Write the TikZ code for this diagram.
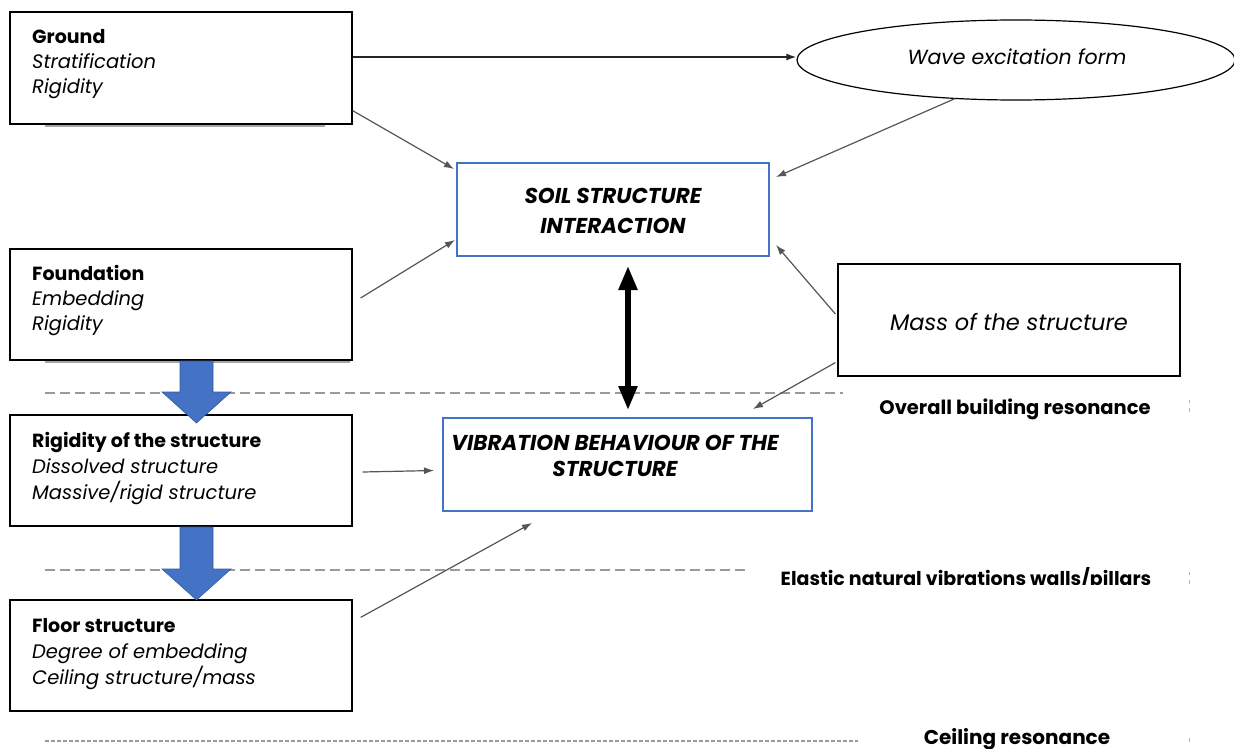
\documentclass[tikz,border=0pt]{standalone}
\usepackage{fontspec}
\setmainfont{Poppins}
\usetikzlibrary{arrows.meta,shapes.geometric}

\definecolor{frameblue}{HTML}{4472C4}
\definecolor{arrowblue}{HTML}{4472C4}
\definecolor{linkgray}{HTML}{555555}
\definecolor{dashgray}{HTML}{9A9A9A}

\begin{document}
\begin{tikzpicture}[x=1pt,y=-1pt,
  box/.style={draw=black, line width=1.2pt, fill=white, inner sep=0pt},
  keybox/.style={draw=frameblue, line width=2pt, fill=white, inner sep=0pt},
  line/.style={anchor=base west, inner sep=0pt, font=\fontsize{19.5}{19.5}\selectfont},
  head/.style={line, font=\fontsize{19}{19}\selectfont\bfseries},
  keytext/.style={anchor=base, inner sep=0pt, font=\fontsize{21.5}{21.5}\selectfont\bfseries\itshape},
  level/.style={anchor=base, inner sep=0pt, font=\fontsize{19.5}{19.5}\selectfont\bfseries},
  link/.style={draw=linkgray, line width=1.2pt, -{Latex[length=10pt,width=7pt]}},
  bigdown/.style={fill=arrowblue, draw=arrowblue!80!black, line width=0.6pt},
  levelline/.style={draw=dashgray, line width=1.4pt, dash pattern=on 10pt off 5pt},
  shade/.style={draw=black!35, line width=2pt}
]
\useasboundingbox (0,0) rectangle (1234,749);

% resonance levels
\draw[levelline] (45,393) -- (843,393);
\draw[levelline] (45,570) -- (745,570);
\draw[levelline, dash pattern=on 4pt off 2pt, line width=1.2pt] (45,741) -- (858,741);
\draw[draw=black!30, line width=1pt] (1189,400) -- (1189,403) (1189,408) -- (1189,412);
\draw[draw=black!30, line width=1pt] (1189,572) -- (1189,575) (1189,580) -- (1189,584);
\draw[draw=black!30, line width=1pt] (1189,738) -- (1189,742);

\node[level] (lvA) at (1015,414) {Overall building resonance};
\begin{scope}
  \clip (760,555) rectangle (1180,584);
  \node[level, font=\fontsize{19}{19}\selectfont\bfseries] (lvB) at (966,585) {Elastic natural vibrations walls/pillars};
\end{scope}
\node[level, font=\fontsize{20}{20}\selectfont\bfseries] (lvC) at (1017,744) {Ceiling resonance};

% soft shadows under the upper boxes
\draw[shade] (45,126) -- (325,126);
\draw[shade] (45,362) -- (350,362);

% boxes
\node[box, minimum width=342pt, minimum height=112pt] (ground) at (181,68) {};
\node[box, minimum width=342pt, minimum height=111pt] (found) at (181,304.5) {};
\node[box, minimum width=342pt, minimum height=111pt] (rigid) at (181,470.5) {};
\node[box, minimum width=342pt, minimum height=111pt] (floor) at (181,655.5) {};
\node[box, minimum width=342pt, minimum height=112pt] (mass) at (1009,320) {};
\node[keybox, minimum width=312pt, minimum height=93pt] (ssi) at (613,209.5) {};
\node[keybox, minimum width=369pt, minimum height=93pt] (vib) at (627.5,464.5) {};
\node[ellipse, draw=black, line width=1.2pt, fill=white, minimum width=438pt, minimum height=80pt, inner sep=0pt] (wave) at (1016,60) {};

% box texts
\node[head] (t1) at (32,44) {Ground};
\node[line] (t2) at (32,69) {\itshape Stratification};
\node[line] (t3) at (32,94) {\itshape Rigidity};

\node[head] (t4) at (32,280) {Foundation};
\node[line] (t5) at (32,305) {\itshape Embedding};
\node[line] (t6) at (32,330) {\itshape Rigidity};

\node[head] (t7) at (32,447) {Rigidity of the structure};
\node[line] (t8) at (32,473) {\itshape Dissolved structure};
\node[line] (t9) at (32,499) {\itshape Massive/rigid structure};

\node[head] (t10) at (32,632) {Floor structure};
\node[line] (t11) at (32,658) {\itshape Degree of embedding};
\node[line] (t12) at (32,684) {\itshape Ceiling structure/mass};

\node[anchor=base, inner sep=0pt, font=\fontsize{20.5}{20.5}\selectfont\itshape] (t13) at (1017,65) {Wave excitation form};
\node[anchor=base, inner sep=0pt, font=\fontsize{22.5}{22.5}\selectfont\itshape] (t14) at (1009,330) {Mass of the structure};

\node[keytext] (t15) at (613,203) {SOIL STRUCTURE};
\node[keytext] (t16) at (613,233) {INTERACTION};
\node[keytext, font=\fontsize{21.5}{21.5}\selectfont\bfseries\itshape] (t17) at (615,450) {VIBRATION BEHAVIOUR OF THE};
\node[keytext, font=\fontsize{21.5}{21.5}\selectfont\bfseries\itshape] (t18) at (615,476) {STRUCTURE};

% block arrows down the left column
\path[bigdown] (180,361) -- (213,361) -- (213,392) -- (231,392) -- (196.5,423)
  -- (162,392) -- (180,392) -- cycle;
\path[bigdown] (180,527) -- (213,527) -- (213,569) -- (231,569) -- (196.5,600)
  -- (162,569) -- (180,569) -- cycle;

% influence links
\draw[link, draw=black!85, line width=1.6pt] ([yshift=11pt]ground.east) -- ([yshift=3pt]wave.west);
\draw[link] ([yshift=14pt]ground.south east) -- ([xshift=-2pt,yshift=-7pt]ssi.north west);
\draw[link] ([xshift=-61pt,yshift=2pt]wave.south) -- ([xshift=6pt,yshift=-15pt]ssi.north east);
\draw[link] ([xshift=8pt,yshift=6.5pt]found.east) -- ([xshift=-1pt,yshift=17pt]ssi.south west);
\draw[link] ([xshift=-2pt,yshift=6pt]mass.west) -- ([xshift=6pt,yshift=12pt]ssi.south east);
\draw[link] ([xshift=-2pt,yshift=14pt]mass.south west) -- ([xshift=-60pt,yshift=8pt]vib.north east);
\draw[link] ([xshift=10pt,yshift=-1.5pt]rigid.east) -- ([xshift=-8pt,yshift=-6pt]vib.west);
\draw[link] ([xshift=8pt,yshift=-18pt]floor.north east) -- ([xshift=-95.5pt,yshift=-11pt]vib.south);

% two-way interaction
\draw[line width=5.5pt, {Triangle[length=24pt,width=18pt]}-{Triangle[length=24pt,width=18pt]}]
  ([xshift=15pt,yshift=-9pt]ssi.south) -- ([xshift=0.5pt,yshift=7pt]vib.north);
\end{tikzpicture}
\end{document}
